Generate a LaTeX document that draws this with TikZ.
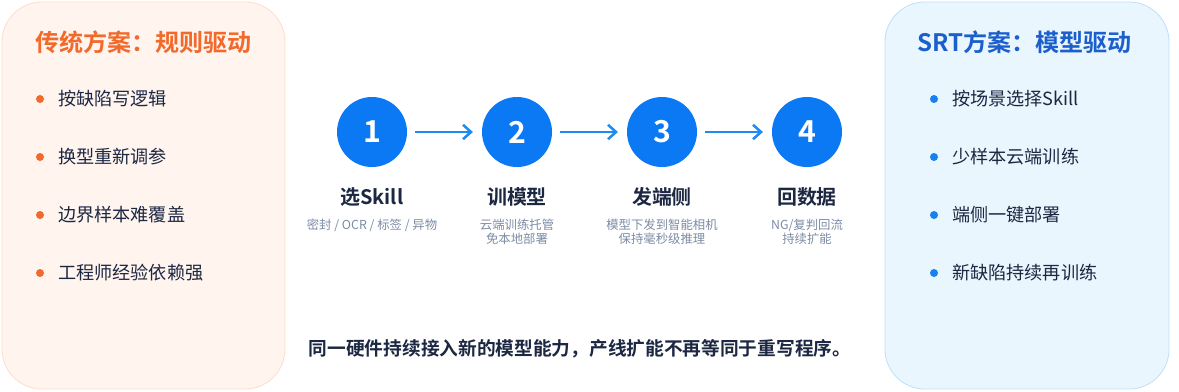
\documentclass[tikz,border=0pt]{standalone}
\usepackage{fontspec}
\setmainfont{Noto Sans CJK SC}[BoldFont={Noto Sans CJK SC Bold}]
\usepackage{xcolor}
\usetikzlibrary{arrows.meta, positioning}
\definecolor{tradfill}{HTML}{FFF4EE}
\definecolor{tradline}{HTML}{FDDFCB}
\definecolor{tradorange}{HTML}{F26A2B}
\definecolor{srtfill}{HTML}{EAF6FE}
\definecolor{srtline}{HTML}{BFE1FA}
\definecolor{srtblue}{HTML}{1B5FCC}
\definecolor{dotblue}{HTML}{1780F0}
\definecolor{stepblue}{HTML}{0B78F4}
\definecolor{arrowblue}{HTML}{1F8BF0}
\definecolor{ink}{HTML}{1C2742}
\definecolor{notegray}{HTML}{7C8BA5}

\begin{document}
\begin{tikzpicture}[
    x=0.025cm, y=-0.025cm,
    panel/.style={draw, line width=0.6pt, rounded corners=1cm,
                  minimum width=7.075cm, minimum height=9.675cm},
    trad/.style={panel, draw=tradline, fill=tradfill},
    srt/.style={panel, draw=srtline, fill=srtfill, minimum width=7.1cm},
    title/.style={font=\fontsize{17.1}{20}\selectfont\bfseries,
                  anchor=west, inner sep=0pt},
    item/.style={font=\fontsize{12.9}{15}\selectfont, text=ink,
                 anchor=west, inner sep=0pt},
    dot/.style={circle, inner sep=0pt, minimum size=0.2cm},
    stepc/.style={circle, fill=stepblue, minimum size=1.75cm, inner sep=0pt,
                  text=white, font=\fontsize{21.5}{24}\selectfont\bfseries},
    steplabel/.style={font=\fontsize{14.2}{17}\selectfont\bfseries, text=ink},
    stepnote/.style={font=\fontsize{8.8}{10.2}\selectfont, text=notegray,
                     align=center},
    flow/.style={-{Straight Barb[length=2mm, width=3.6mm]}, line width=1.8pt,
                 draw=arrowblue, shorten <=0.2cm, shorten >=0.22cm},
]
\useasboundingbox (0,0) rectangle (1179,391);

% two side panels
\node[trad] (tradbox) at (143.5,195.5) {};
\node[srt]  (srtbox)  at (1027,195.5) {};

\node[title, text=tradorange] (tradtitle) at (35,42) {传统方案：规则驱动};
\node[dot, fill=tradorange] (td1) at (40,99)  {};
\node[item] (ti1) at (58,99)  {按缺陷写逻辑};
\node[dot, fill=tradorange] (td2) at (40,157) {};
\node[item] (ti2) at (58,157) {换型重新调参};
\node[dot, fill=tradorange] (td3) at (40,215) {};
\node[item] (ti3) at (58,215) {边界样本难覆盖};
\node[dot, fill=tradorange] (td4) at (40,273) {};
\node[item] (ti4) at (58,273) {工程师经验依赖强};

\node[title, text=srtblue] (srttitle) at (917,42) {SRT方案：模型驱动};
\node[dot, fill=dotblue] (sd1) at (934,99)  {};
\node[item] (si1) at (952,99)  {按场景选择Skill};
\node[dot, fill=dotblue] (sd2) at (934,157) {};
\node[item] (si2) at (952,157) {少样本云端训练};
\node[dot, fill=dotblue] (sd3) at (934,215) {};
\node[item] (si3) at (952,215) {端侧一键部署};
\node[dot, fill=dotblue] (sd4) at (934,273) {};
\node[item] (si4) at (952,273) {新缺陷持续再训练};

% the four steps
\node[stepc] (s1) at (372,132) {1};
\node[stepc] (s2) at (517,132) {2};
\node[stepc] (s3) at (662,132) {3};
\node[stepc] (s4) at (807,132) {4};
\draw[flow] (s1) -- (s2);
\draw[flow] (s2) -- (s3);
\draw[flow] (s3) -- (s4);

\node[steplabel] (l1) at (372,197) {选Skill};
\node[steplabel] (l2) at (517,197) {训模型};
\node[steplabel] (l3) at (662,197) {发端侧};
\node[steplabel] (l4) at (807,197) {回数据};
\node[stepnote] (n1) at (372,225) {密封 / OCR / 标签 / 异物};
\node[stepnote] (n2) at (517,232) {云端训练托管\\ 免本地部署};
\node[stepnote] (n3) at (662,232) {模型下发到智能相机\\ 保持毫秒级推理};
\node[stepnote] (n4) at (807,232) {NG/复判回流\\ 持续扩能};

\node[font=\fontsize{13.3}{16}\selectfont\bfseries, text=ink] (summary) at (580,349)
   {同一硬件持续接入新的模型能力，产线扩能不再等同于重写程序。};
\end{tikzpicture}
\end{document}
